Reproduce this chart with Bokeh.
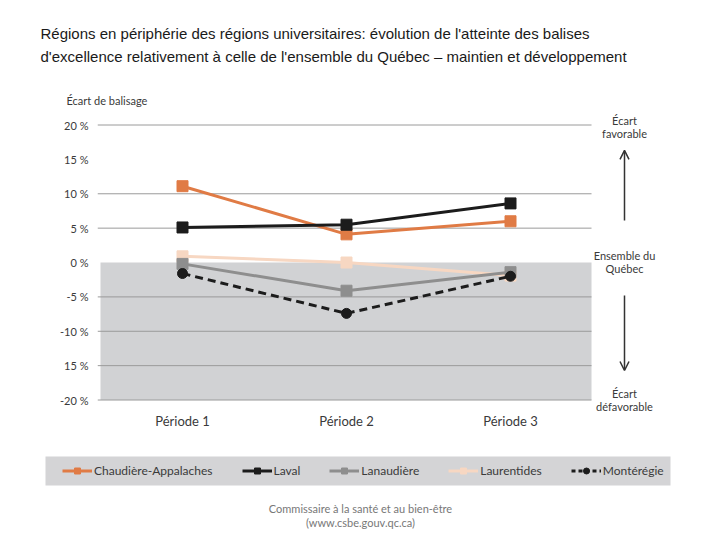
from bokeh.plotting import figure
from bokeh.layouts import column
from bokeh.models import (FixedTicker, Label, Arrow, OpenHead, BoxAnnotation, Legend, LegendItem, Range1d)
from bokeh.embed import file_html
from bokeh.resources import INLINE

# ---------------- data ----------------
periods = ["Période 1", "Période 2", "Période 3"]
x_pos = [1, 2, 3]
series_names = ["Chaudière-Appalaches", "Laval", "Lanaudière", "Laurentides", "Montérégie"]
chaudiere = [11.1, 4.1, 6.0]
laval = [5.1, 5.5, 8.6]
lanaudiere = [-0.2, -4.1, -1.4]
laurentides = [0.9, 0.0, -1.9]
monteregie = [-1.6, -7.4, -2.0]
y_ticks = [-20, -15, -10, -5, 0, 5, 10, 15, 20]
y_tick_labels = ["-20 %", "15 %", "-10 %", "-5 %", "0 %", "5 %", "10 %", "15 %", "20 %"]
grid_ticks = [-20, -15, -10, -5, 5, 10, 20]

FONT = "Lato"
TXT = "#3a3a3a"
W = 712

styles = [
    ("#e07b45", "square", "solid"),
    ("#1c1c1c", "square", "solid"),
    ("#8e8e8e", "square", "solid"),
    ("#f7d7c2", "square", "solid"),
    ("#1c1c1c", "circle", "8 5"),
]
series_values = [chaudiere, laval, lanaudiere, laurentides, monteregie]

def blank_fig(h):
    f = figure(width=W, height=h, output_backend="svg", toolbar_location=None,
               x_axis_type=None, y_axis_type=None,
               x_range=Range1d(0, W), y_range=Range1d(h, 0),
               min_border_left=0, min_border_right=0, min_border_top=0, min_border_bottom=0,
               outline_line_color=None, border_fill_color="white", background_fill_color="white")
    f.grid.grid_line_color = None
    f.frame_align = False
    return f

def add_label(f, text, x, y, size="11px", align="center", color=TXT, font=FONT):
    f.add_layout(Label(x=x, y=y, text=text, text_align=align, text_baseline="middle",
                       text_font=font, text_font_size=size, text_color=color))

# ---------------- top (titles) ----------------
top = blank_fig(108)
add_label(top, "Régions en périphérie des régions universitaires: évolution de l'atteinte des balises",
          40, 33, size="15px", align="left", color="#1a1a1a", font="Liberation Sans")
add_label(top, "d'excellence relativement à celle de l'ensemble du Québec – maintien et développement",
          40, 56, size="15px", align="left", color="#1a1a1a", font="Liberation Sans")
add_label(top, "Écart de balisage", 66, 100, align="left")

# ---------------- main chart ----------------
X0 = 1 - 85 / 164
X1 = X0 + 609 / 164
p = figure(frame_width=609, frame_height=301, output_backend="svg", toolbar_location=None,
           x_range=(X0, X1), y_range=(-21.96, 21.82),
           min_border_left=97, min_border_right=6, min_border_top=4, min_border_bottom=25,
           outline_line_color=None, background_fill_color="white", border_fill_color="white")
p.frame_align = False

PLOT_RIGHT = 3.494
p.add_layout(BoxAnnotation(top=0, bottom=-20, left=X0 + 3 / 164, right=PLOT_RIGHT,
                           fill_color="#d1d2d4", fill_alpha=1.0, line_color=None, level="underlay"))
p.grid.grid_line_color = None
p.segment(x0=[X0] * len(grid_ticks), y0=grid_ticks, x1=[PLOT_RIGHT] * len(grid_ticks), y1=grid_ticks,
          line_color="#9a9a9a", line_width=1)

p.yaxis.ticker = FixedTicker(ticks=y_ticks)
p.yaxis.major_label_overrides = {t: l for t, l in zip(y_ticks, y_tick_labels)}
p.yaxis.axis_line_color = None
p.yaxis.major_tick_line_color = None
p.yaxis.minor_tick_line_color = None
p.yaxis.major_label_standoff = 3
p.yaxis.major_label_text_font = FONT
p.yaxis.major_label_text_font_size = "11px"
p.yaxis.major_label_text_color = TXT

p.xaxis.ticker = FixedTicker(ticks=x_pos)
p.xaxis.major_label_overrides = {x: l for x, l in zip(x_pos, periods)}
p.xaxis.axis_line_color = None
p.xaxis.major_tick_line_color = None
p.xaxis.minor_tick_line_color = None
p.xaxis.major_label_standoff = -7
p.xaxis.major_label_text_font = FONT
p.xaxis.major_label_text_font_size = "13px"
p.xaxis.major_label_text_color = TXT

for i in [3, 2, 4, 0, 1]:
    col, mk, dash = styles[i]
    vals = series_values[i]
    p.line(x_pos, vals, line_color=col, line_width=3, line_dash=dash)
    p.scatter(x_pos, vals, marker=mk, size=11 if mk == "square" else 10, fill_color=col, line_color=col)

AX = 1 + (624 - 182) / 164
for text, yv in [("Écart", 20.65), ("favorable", 18.76), ("Ensemble du", 1.02), ("Québec", -0.87),
                 ("Écart", -19.05), ("défavorable", -20.95)]:
    add_label(p, text, AX, yv)
p.add_layout(Arrow(x_start=AX, y_start=6.1, x_end=AX, y_end=16.3, line_color="#333333",
                   line_width=1.5, end=OpenHead(size=9, line_color="#333333", line_width=1.5)))
p.add_layout(Arrow(x_start=AX, y_start=-4.8, x_end=AX, y_end=-15.7, line_color="#333333",
                   line_width=1.5, end=OpenHead(size=9, line_color="#333333", line_width=1.5)))

# ---------------- bottom (legend + credit) ----------------
bot = blank_fig(96)
bot.add_layout(BoxAnnotation(left=45, right=670, top=18, bottom=47, fill_color="#d4d4d6",
                             fill_alpha=1.0, line_color=None, level="underlay"))
items = []
for i in range(5):
    col, mk, dash = styles[i]
    vals = series_values[i]
    l = bot.line(x_pos, vals, line_color=col, line_width=3,
                 line_dash="4 3" if dash != "solid" else "solid", visible=False)
    m = bot.scatter(x_pos, vals, marker=mk, size=10 if mk == "square" else 8,
                    fill_color=col, line_color=col, visible=False)
    items.append(LegendItem(label=series_names[i], renderers=[l, m]))
legend = Legend(items=items, orientation="horizontal", location=(62, 56),
                background_fill_alpha=0.0, border_line_color=None,
                label_text_font=FONT, label_text_font_size="12px",
                label_text_color=TXT, glyph_width=30, glyph_height=15, label_height=15,
                spacing=29, padding=0, margin=0, label_standoff=2)
bot.add_layout(legend)
add_label(bot, "Commissaire à la santé et au bien-être", 360, 70, size="11px", color="#777777")
add_label(bot, "(www.csbe.gouv.qc.ca)", 360, 84, size="11px", color="#777777")

layout = column(top, p, bot, spacing=0)
open("out.html", "w").write(file_html(layout, INLINE))
